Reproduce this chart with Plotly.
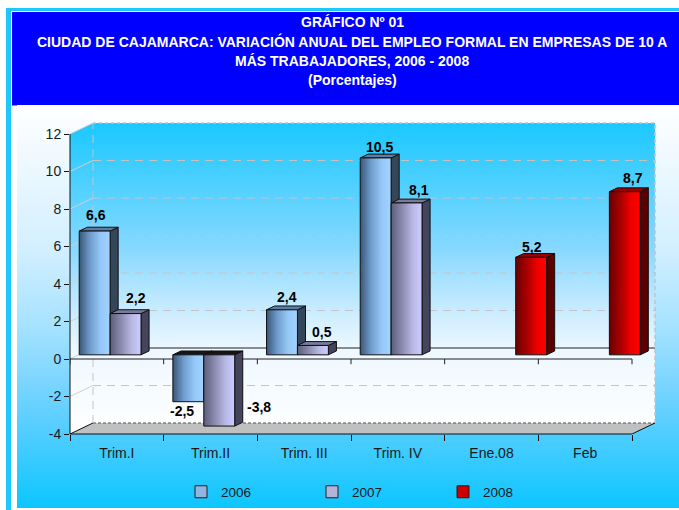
import plotly.graph_objects as go

# ---------------- data ----------------
categories = ["Trim.I", "Trim.II", "Trim. III", "Trim. IV", "Ene.08", "Feb"]
series_names = ["2006", "2007", "2008"]
values_2006 = [6.6, -2.5, 2.4, 10.5, None, None]
values_2007 = [2.2, -3.8, 0.5, 8.1, None, None]
values_2008 = [None, None, None, None, 5.2, 8.7]
y_tick_values = [-4, -2, 0, 2, 4, 6, 8, 10, 12]
y_tick_labels = ["-4", "-2", "0", "2", "4", "6", "8", "10", "12"]
title_lines = [
    "GRÁFICO Nº 01",
    "CIUDAD DE CAJAMARCA: VARIACIÓN ANUAL DEL EMPLEO FORMAL EN EMPRESAS DE 10 A",
    "MÁS TRABAJADORES, 2006 - 2008",
    "(Porcentajes)",
]

series = [values_2006, values_2007, values_2008]

# ---------------- styling / geometry ----------------
W, H = 679, 510
FONT = "Liberation Sans, Arial, sans-serif"
N = len(categories)
X0, X1 = -0.5, N - 0.5
Y0, Y1 = y_tick_values[0], y_tick_values[-1]
DX, DY = 0.2455, 0.587          # depth of the 3D box in data units
F0, F1 = 0.38, 0.73             # depth fraction of bar front/back
SX, BASE = F0 * DX, F0 * DY
BDX, BDY = (F1 - F0) * DX, (F1 - F0) * DY
BAR_W = 0.33
GROUP_LEFT = -0.495

front_scales = [
    [[0, "#3a5676"], [0.35, "#6f9ccd"], [0.7, "#95c8f8"], [1, "#a2d2ff"]],
    [[0, "#5c5c7c"], [0.35, "#8a8aac"], [0.7, "#b8b8e6"], [1, "#ccccff"]],
    [[0, "#6a0000"], [0.4, "#b00000"], [0.7, "#f00000"], [1, "#ff0000"]],
]
side_colors = ["#34465a", "#44445c", "#5c0000"]
top_colors = ["#5d7ea4", "#7a7a9c", "#9a0000"]
legend_colors = ["#8fb5e0", "#b4b4da", "#cc0000"]
EDGE = "#101010"

BG_SCALE = [[0, "#ffffff"], [0.11, "#f2faff"], [0.36, "#d2efff"], [0.55, "#a5e2ff"],
            [0.68, "#7ed6ff"], [0.81, "#52cdff"], [1, "#0cc6ff"]]
WALL_SCALE = [[0, "#ffffff"], [0.27, "#eef8ff"], [0.367, "#d2efff"], [0.48, "#aee4ff"],
              [0.6, "#86d8ff"], [0.88, "#3acdff"], [1, "#1ac8ff"]]

fig = go.Figure()

def poly(xs, ys, axis="2", **kw):
    suffix = axis if axis != "1" else ""
    fig.add_trace(go.Scatter(
        x=xs, y=ys, xaxis="x" + suffix, yaxis="y" + suffix,
        mode="lines", hoverinfo="skip", showlegend=False, **kw))

# background gradient (pixel axes x/y)
poly([17, W, W, 17, 17], [105, 105, 508, 508, 105], axis="1", line=dict(width=0),
     fill="toself", fillgradient=dict(type="vertical", colorscale=BG_SCALE, start=105, stop=508))

# bars as real bar traces (front faces, covered by shaded faces below)
for k, vals in enumerate(series):
    fig.add_trace(go.Bar(
        x=[i + SX for i in range(N)], y=vals, base=BASE, width=BAR_W,
        offset=GROUP_LEFT + k * BAR_W, name=series_names[k], xaxis="x2", yaxis="y2",
        marker=dict(color=legend_colors[k], line=dict(color="#202020", width=1)),
        hoverinfo="skip"))

# walls
poly([X0, X0 + DX, X0 + DX, X0, X0], [Y0, Y0 + DY, Y1 + DY, Y1, Y0], line=dict(width=0),
     fill="toself", fillgradient=dict(type="vertical", colorscale=WALL_SCALE, start=Y0, stop=Y1 + DY))
poly([X0 + DX, X1 + DX, X1 + DX, X0 + DX, X0 + DX], [Y0 + DY, Y0 + DY, Y1 + DY, Y1 + DY, Y0 + DY],
     line=dict(width=0), fill="toself",
     fillgradient=dict(type="vertical", colorscale=WALL_SCALE, start=Y0, stop=Y1 + DY))
# floor
poly([X0, X0 + DX, X1 + DX, X1, X0], [Y0, Y0 + DY, Y0 + DY, Y0, Y0], line=dict(width=0),
     fill="toself", fillcolor="#c0c0c0")
poly([X0 + DX, X1 + DX], [Y0 + DY, Y0 + DY], line=dict(color="#505050", width=1, dash="3px,2px"))
poly([X0, X0 + DX, None, X1, X1 + DX], [Y0, Y0 + DY, None, Y0, Y0 + DY], line=dict(color=EDGE, width=1))

# wall gridlines
gx, gy = [], []
for v in y_tick_values[1:-1]:
    if v == 0:
        continue
    gx += [X0 + DX, X1 + DX, None]
    gy += [v + DY, v + DY, None]
gx += [X0 + DX, X0 + DX]
gy += [Y0 + DY, Y1 + DY]
poly(gx, gy, line=dict(color="#c4c4c4", width=1, dash="8px,6px"))
dxs, dys = [], []
for v in y_tick_values[1:]:
    dxs += [X0, X0 + DX, None]
    dys += [v, v + DY, None]
poly(dxs, dys, line=dict(color="#d0d0d0", width=1))
# back zero line
poly([X0 + DX, X1 + DX], [DY, DY], line=dict(color="#202020", width=1))
# front zero line with ticks
zx, zy = [X0, X1, None], [0, 0, None]
for j in range(N + 1):
    zx += [X0 + j, X0 + j, None]
    zy += [0, -0.28, None]
poly(zx, zy, line=dict(color="#202020", width=1))

# bar faces
for i in range(N):
    for k, vals in enumerate(series):
        v = vals[i]
        if v is None:
            continue
        xl = i + SX + GROUP_LEFT + k * BAR_W
        xr = xl + BAR_W
        lo, hi = min(BASE, BASE + v), max(BASE, BASE + v)
        poly([xr, xr + BDX, xr + BDX, xr, xr], [lo, lo + BDY, hi + BDY, hi, lo],
             fill="toself", fillcolor=side_colors[k], line=dict(color=EDGE, width=1))
        poly([xl, xl + BDX, xr + BDX, xr, xl], [hi, hi + BDY, hi + BDY, hi, hi],
             fill="toself", fillcolor=top_colors[k] if v >= 0 else "#151515",
             line=dict(color=EDGE, width=1))
        poly([xl, xr, xr, xl, xl], [lo, lo, hi, hi, lo], fill="toself",
             fillgradient=dict(type="horizontal", colorscale=front_scales[k]),
             line=dict(color=EDGE, width=1))

# data labels
label_shift = {(0, 0): (1, 16), (1, 0): (10, 16), (0, 2): (5, 13), (1, 2): (9, 13),
               (0, 3): (4, 11), (1, 3): (12, 13), (2, 4): (1, 10), (2, 5): (8, 14),
               (0, 1): (-6, -9), (1, 1): (40, 19)}
annotations = []
for i in range(N):
    for k, vals in enumerate(series):
        v = vals[i]
        if v is None:
            continue
        xl = i + SX + GROUP_LEFT + k * BAR_W
        xs, ys = label_shift.get((k, i), (0, 12 if v >= 0 else -10))
        annotations.append(dict(
            x=xl + BAR_W / 2, y=BASE + v, xref="x2", yref="y2", showarrow=False,
            text=f"{v:.1f}".replace(".", ","), xshift=xs, yshift=ys,
            font=dict(family=FONT, size=14, color="#000000", weight="bold")))

# title
for n, line in enumerate(title_lines):
    annotations.append(dict(
        x=352, y=22 + n * 19.3, xref="x", yref="y", showarrow=False, text=line,
        font=dict(family=FONT, size=14, color="#ffffff", weight="bold")))

shapes = [
    dict(type="rect", xref="x", yref="y", x0=6, x1=W + 5, y0=8, y1=H + 5, fillcolor="#1ec8ff",
         line=dict(width=0), layer="below"),
    dict(type="rect", xref="x", yref="y", x0=11, x1=W + 5, y0=11, y1=H + 5, fillcolor="#ffffff",
         line=dict(width=0), layer="below"),
    dict(type="rect", xref="x", yref="y", x0=12, x1=W + 5, y0=12, y1=105.5, fillcolor="#0000ff",
         line=dict(width=0), layer="below"),
    dict(type="line", xref="x2 domain", yref="y2", x0=0, x1=0, y0=Y0, y1=Y1,
         line=dict(color="#101010", width=1), layer="above"),
    dict(type="line", xref="x2", yref="y2 domain", x0=X0, x1=X1, y0=0, y1=0,
         line=dict(color="#101010", width=1.2), layer="above"),
    dict(type="line", xref="x2", yref="y2 domain", x0=X0 + DX, x1=X1 + DX, y0=1, y1=1,
         line=dict(color="#c4c4c4", width=1.5, dash="dot"), layer="above"),
    dict(type="line", xref="x2 domain", yref="y2", x0=1, x1=1, y0=Y0 + DY, y1=Y1 + DY,
         line=dict(color="#c4c4c4", width=1.5, dash="4px,3px"), layer="above"),
]

fig.update_layout(
    width=W, height=H, margin=dict(l=0, r=0, t=0, b=0, autoexpand=False),
    paper_bgcolor="#ffffff", plot_bgcolor="rgba(0,0,0,0)",
    barmode="overlay", showlegend=True, hovermode=False,
    font=dict(family=FONT, color="#1a1a1a"),
    xaxis=dict(domain=[0, 1], range=[0, W], visible=False, fixedrange=True),
    yaxis=dict(domain=[0, 1], range=[H, 0], visible=False, fixedrange=True),
    xaxis2=dict(domain=[70 / W, 655 / W], anchor="y2", range=[X0, X1 + DX],
                tickmode="array", tickvals=list(range(N)), ticktext=categories, ticks="",
                showgrid=False, zeroline=False, showline=False, ticklabelstandoff=9,
                tickfont=dict(family=FONT, size=14, color="#1a1a1a"),
                minor=dict(tickmode="array", tickvals=[X0 + j for j in range(N + 1)],
                           ticks="outside", ticklen=6, tickcolor="#101010", showgrid=False)),
    yaxis2=dict(domain=[(H - 434) / H, (H - 123) / H], anchor="x2", range=[Y0, Y1 + DY],
                tickmode="array", tickvals=y_tick_values, ticktext=y_tick_labels,
                ticks="outside", ticklen=5,
                tickcolor="#101010", showgrid=False, zeroline=False, showline=False,
                tickfont=dict(family=FONT, size=14, color="#1a1a1a")),
    legend=dict(orientation="h", xref="container", yref="container",
                x=181 / W, y=(H - 492) / H, xanchor="left", yanchor="middle",
                bgcolor="rgba(0,0,0,0)", font=dict(family=FONT, size=13.5, color="#1a1a1a"),
                entrywidth=86, entrywidthmode="pixels"),
    annotations=annotations, shapes=shapes,
)

fig.write_html(
    "out.html",
    config={"displayModeBar": False, "staticPlot": True},
    post_script="document.body.style.margin='0';"
                "document.documentElement.style.overflow='hidden';"
                "var d=document.getElementById('{plot_id}');"
                "d.style.position='fixed';d.style.left='0px';d.style.top='0px';",
)
